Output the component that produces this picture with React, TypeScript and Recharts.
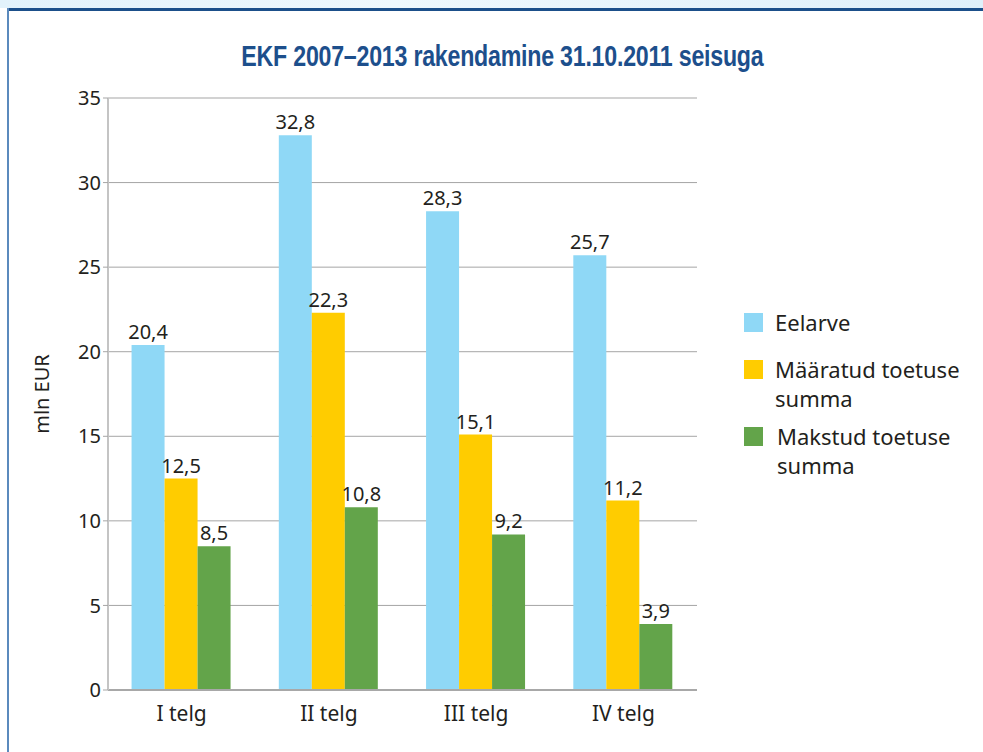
import React from "react";
import { BarChart, Bar, XAxis, YAxis, CartesianGrid, Legend, LabelList } from "recharts";

const categories = ["I telg", "II telg", "III telg", "IV telg"];
const eelarve = [20.4, 32.8, 28.3, 25.7];
const maaratud = [12.5, 22.3, 15.1, 11.2];
const makstud = [8.5, 10.8, 9.2, 3.9];
const yTicks = [0, 5, 10, 15, 20, 25, 30, 35];

const series = [
  { key: "eelarve", name: "Eelarve", color: "#8fd8f6" },
  { key: "maaratud", name: "Määratud toetuse summa", color: "#ffcc00" },
  { key: "makstud", name: "Makstud toetuse summa", color: "#63a44a" },
];

const data = categories.map((c, i) => ({
  telg: c,
  eelarve: eelarve[i],
  maaratud: maaratud[i],
  makstud: makstud[i],
}));

const FONT = "'Noto Sans', 'Open Sans', sans-serif";
const TEXT = "#231f20";
const legendGaps = [18, 9, 0];

const fmt = (v: any) => String(v).replace(".", ",");

// legend built from series so the order stays as in the original
function LegendBox() {
  return (
    <div style={{ fontFamily: FONT, fontSize: 22, color: TEXT }}>
      {series.map((s, i) => (
        <div key={s.key} style={{ display: "flex", alignItems: "flex-start", marginBottom: legendGaps[i] }}>
          <div style={{ width: 19, height: 19, background: s.color, marginTop: 5, marginRight: 12, flexShrink: 0 }} />
          <div style={{ width: 205, lineHeight: "29px", marginLeft: i === 2 ? 2 : 0 }}>{s.name}</div>
        </div>
      ))}
    </div>
  );
}

export default function App() {
  return (
    <div style={{ position: "absolute", left: 0, top: 0, width: 983, height: 752, background: "#fff", overflow: "hidden" }}>
      <div style={{ position: "absolute", left: 0, top: 0, width: 983, height: 8, background: "linear-gradient(to right, #e2f2fb, #eef8fd 40%, #dff0fa)" }} />
      <div style={{ position: "absolute", left: 7, top: 8, width: 990, height: 3, background: "#1b4f8a" }} />
      <div style={{ position: "absolute", left: 7, top: 8, width: 2, height: 760, background: "#5b8abd" }} />
      <div
        style={{
          position: "absolute",
          left: 0,
          top: 40,
          width: 1005,
          textAlign: "center",
          fontFamily: "'Liberation Sans', Arial, sans-serif",
          fontWeight: "bold",
          fontSize: 29,
          color: "#1d4f8c",
          letterSpacing: -0.3,
          transform: "scaleX(0.8)",
          transformOrigin: "502px 0",
        }}
      >
        EKF 2007–2013 rakendamine 31.10.2011 seisuga
      </div>
      <div style={{ position: "absolute", left: 0, top: 0 }}>
        <BarChart
          width={983}
          height={752}
          data={data}
          margin={{ top: 98, right: 286, bottom: 22, left: 48 }}
          barCategoryGap="16%"
          barGap={0}
        >
          <CartesianGrid vertical={false} stroke="#a5a5a5" strokeWidth={1} />
          <XAxis
            dataKey="telg"
            height={40}
            tickLine={false}
            axisLine={{ stroke: "#a8a8a8", strokeWidth: 2 }}
            tick={{ fontFamily: FONT, fontSize: 21, fill: TEXT }}
            tickMargin={10}
          />
          <YAxis
            width={60}
            domain={[0, 35]}
            ticks={yTicks}
            interval={0}
            axisLine={{ stroke: "#c4c4c4", strokeWidth: 2 }}
            tickLine={{ stroke: "#a5a5a5" }}
            tickSize={5}
            tick={{ fontFamily: FONT, fontSize: 20, fill: TEXT }}
            tickMargin={2}
            label={{
              value: "mln EUR",
              angle: -90,
              position: "insideLeft",
              dx: -11,
              style: { fontFamily: FONT, fontSize: 20, fill: TEXT, textAnchor: "middle" },
            }}
          />
          <Legend
            layout="vertical"
            align="center"
            verticalAlign="middle"
            content={<LegendBox />}
            wrapperStyle={{ position: "absolute", left: 744, top: 308, width: 239 }}
          />
          {series.map((s) => (
            <Bar key={s.key} dataKey={s.key} name={s.name} fill={s.color} isAnimationActive={false}>
              <LabelList
                dataKey={s.key}
                position="top"
                offset={6}
                formatter={fmt}
                style={{ fontFamily: FONT, fontSize: 20, fill: TEXT }}
              />
            </Bar>
          ))}
        </BarChart>
      </div>
    </div>
  );
}
